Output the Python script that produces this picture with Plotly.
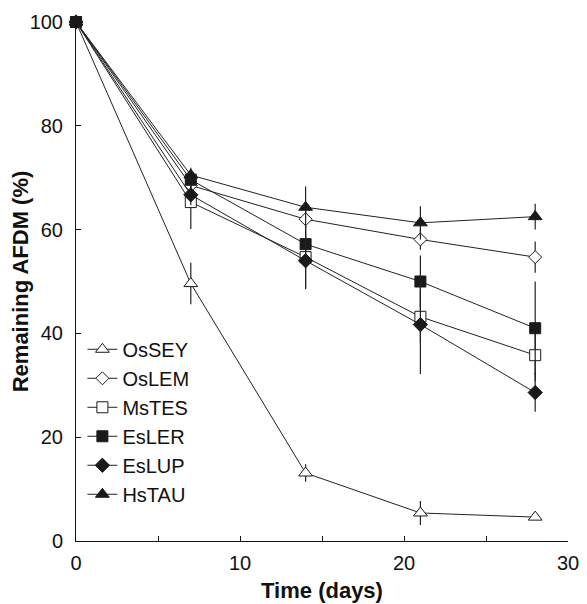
import plotly.graph_objects as go

days = [0, 7, 14, 21, 28]
series_names = ["OsSEY", "OsLEM", "MsTES", "EsLER", "EsLUP", "HsTAU"]
OsSEY = [100, 49.6, 13.1, 5.4, 4.6]
OsLEM = [100, 68.5, 62.0, 58.1, 54.7]
MsTES = [100, 65.3, 54.7, 43.2, 35.8]
EsLER = [100, 69.6, 57.2, 50.0, 41.0]
EsLUP = [100, 66.7, 54.0, 41.7, 28.6]
HsTAU = [100, 70.5, 64.3, 61.3, 62.5]
OsSEY_err = [0, 4.0, 1.7, 2.3, 0.4]
OsLEM_err = [0, 1.5, 2.0, 2.0, 3.0]
MsTES_err = [0, 5.2, 6.0, 5.0, 5.0]
EsLER_err = [0, 1.5, 3.0, 5.0, 9.0]
EsLUP_err = [0, 2.0, 5.5, 9.5, 3.7]
HsTAU_err = [0, 1.4, 4.0, 3.2, 2.5]

values = [OsSEY, OsLEM, MsTES, EsLER, EsLUP, HsTAU]
errors = [OsSEY_err, OsLEM_err, MsTES_err, EsLER_err, EsLUP_err, HsTAU_err]
symbols = ["triangle-up", "diamond", "square", "square", "diamond", "triangle-up"]
fills = ["white", "white", "white", "#1a1a1a", "#1a1a1a", "#1a1a1a"]
sizes = [12, 10, 11, 11, 11, 12]

fig = go.Figure()
for name, v, e, s, f, sz in zip(series_names, values, errors, symbols, fills, sizes):
    fig.add_trace(go.Scatter(
        x=days, y=v, name=name, mode="lines+markers",
        line=dict(color="#222222", width=1),
        marker=dict(symbol=s, size=sz, color=f, line=dict(color="#1a1a1a", width=1)),
        error_y=dict(type="data", array=e, visible=True, color="#222222", thickness=1.2, width=0),
        cliponaxis=False,
    ))

fig.update_layout(
    width=587, height=604,
    margin=dict(l=68, r=27, t=14, b=71),
    paper_bgcolor="white", plot_bgcolor="white",
    font=dict(family="Liberation Sans, Arial, sans-serif", size=20, color="#111111"),
    showlegend=True,
    legend=dict(x=0.013, y=0.407, xanchor="left", yanchor="top", bgcolor="rgba(0,0,0,0)",
                font=dict(size=20), tracegroupgap=0, itemwidth=30),
    xaxis=dict(range=[0, 30], tickvals=[0, 10, 20, 30], ticks="inside", ticklen=5,
               tickcolor="#111111", showline=True, linecolor="#111111", linewidth=1,
               showgrid=False, zeroline=False, automargin=False, ticklabelstandoff=4,
               minor=dict(tickvals=[5, 15, 25], ticks="inside", ticklen=5, tickcolor="#111111"),
               title=dict(text="<b>Time (days)</b>", font=dict(size=22), standoff=9)),
    yaxis=dict(range=[0, 100], tickvals=[0, 20, 40, 60, 80, 100], ticks="inside", ticklen=5,
               tickcolor="#111111", showline=True, linecolor="#111111", linewidth=1,
               showgrid=False, zeroline=False, automargin=False, ticklabelstandoff=8,
               title=dict(text="<b>Remaining AFDM (%)</b>", font=dict(size=22), standoff=0)),
)

fig.write_html("out.html")
